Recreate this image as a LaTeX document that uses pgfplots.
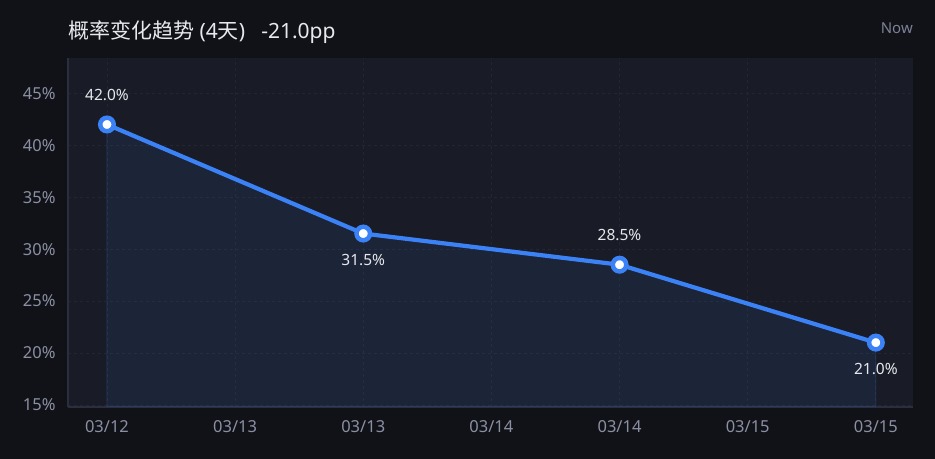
\documentclass[border=0pt]{standalone}
\usepackage{pgfplots}
\pgfplotsset{compat=1.18}
\usepackage{fontspec}
\setmainfont{Noto Sans}
\newfontfamily\cjk{Noto Sans CJK SC}
\definecolor{outerbg}{HTML}{111217}
\definecolor{plotbg}{HTML}{191B26}
\definecolor{axiscol}{HTML}{2B2E3D}
\definecolor{gridcol}{HTML}{222533}
\definecolor{linecol}{HTML}{3B82F6}
\definecolor{tickcol}{HTML}{8B8FA3}
\definecolor{titlecol}{HTML}{E8E9EE}
\definecolor{nowcol}{HTML}{7D8195}
\definecolor{labcol}{HTML}{E6E7EC}
\pgfplotstableread{
x y
0 42.0
1 31.5
2 28.5
3 21.0
}\datatab
\begin{document}
\begin{tikzpicture}
\useasboundingbox (0,0) rectangle (935bp,459bp);
\fill[outerbg] (0,0) rectangle (935bp,459bp);
\node[anchor=base west, inner sep=0, text=titlecol] at (68bp,420bp)
  {\fontsize{21bp}{25bp}\selectfont{\cjk 概率变化趋势} ({4}{\cjk 天})\hspace{16bp}-21.0pp};
\node[anchor=base east, inner sep=0, text=nowcol] at (913bp,425bp)
  {\fontsize{15bp}{18bp}\selectfont Now};
\begin{axis}[
  at={(68bp,52bp)}, anchor=south west,
  scale only axis, width=845bp, height=349bp,
  xmin=-0.152, xmax=3.145, ymin=14.8, ymax=48.4,
  axis background/.style={fill=plotbg},
  axis lines=left,
  axis line style={-, draw=axiscol, line width=2bp},
  xtick={0,0.5,1,1.5,2,2.5,3},
  xticklabels={03/12,03/13,03/13,03/14,03/14,03/15,03/15},
  ytick={15,20,25,30,35,40,45},
  yticklabel={\pgfmathprintnumber{\tick}\%},
  /pgf/number format/assume math mode=true,
  major tick length=0pt,
  grid=major,
  major grid style={draw=gridcol, dash pattern=on 3bp off 3bp, line width=0.8bp},
  tick label style={text=tickcol, font=\fontsize{16.5bp}{19bp}\selectfont},
  xticklabel style={yshift=-10bp},
  yticklabel style={xshift=-9bp},
  clip=true,
]
\addplot[fill=linecol, fill opacity=0.09, draw=linecol, draw opacity=0.15, line width=1bp, forget plot]
  table[x=x, y=y] {\datatab} \closedcycle;
\addplot[linecol, line width=4.2bp, mark=*, mark size=6.75bp,
  mark options={line width=4.5bp, draw=linecol, fill=white},
  point meta=y,
  visualization depends on={rawx \as \xv},
  nodes near coords={\pgfmathprintnumber[fixed, fixed zerofill, precision=1]{\pgfplotspointmeta}\%},
  every node near coord/.append style={anchor=center, inner sep=0pt,
    yshift={mod(round(\xv),2)==0 ? 30 : -26.5},
    text=labcol, font=\fontsize{15.5bp}{18bp}\selectfont},
  clip marker paths=false,
] table[x=x, y=y] {\datatab};
\end{axis}
\end{tikzpicture}
\end{document}
